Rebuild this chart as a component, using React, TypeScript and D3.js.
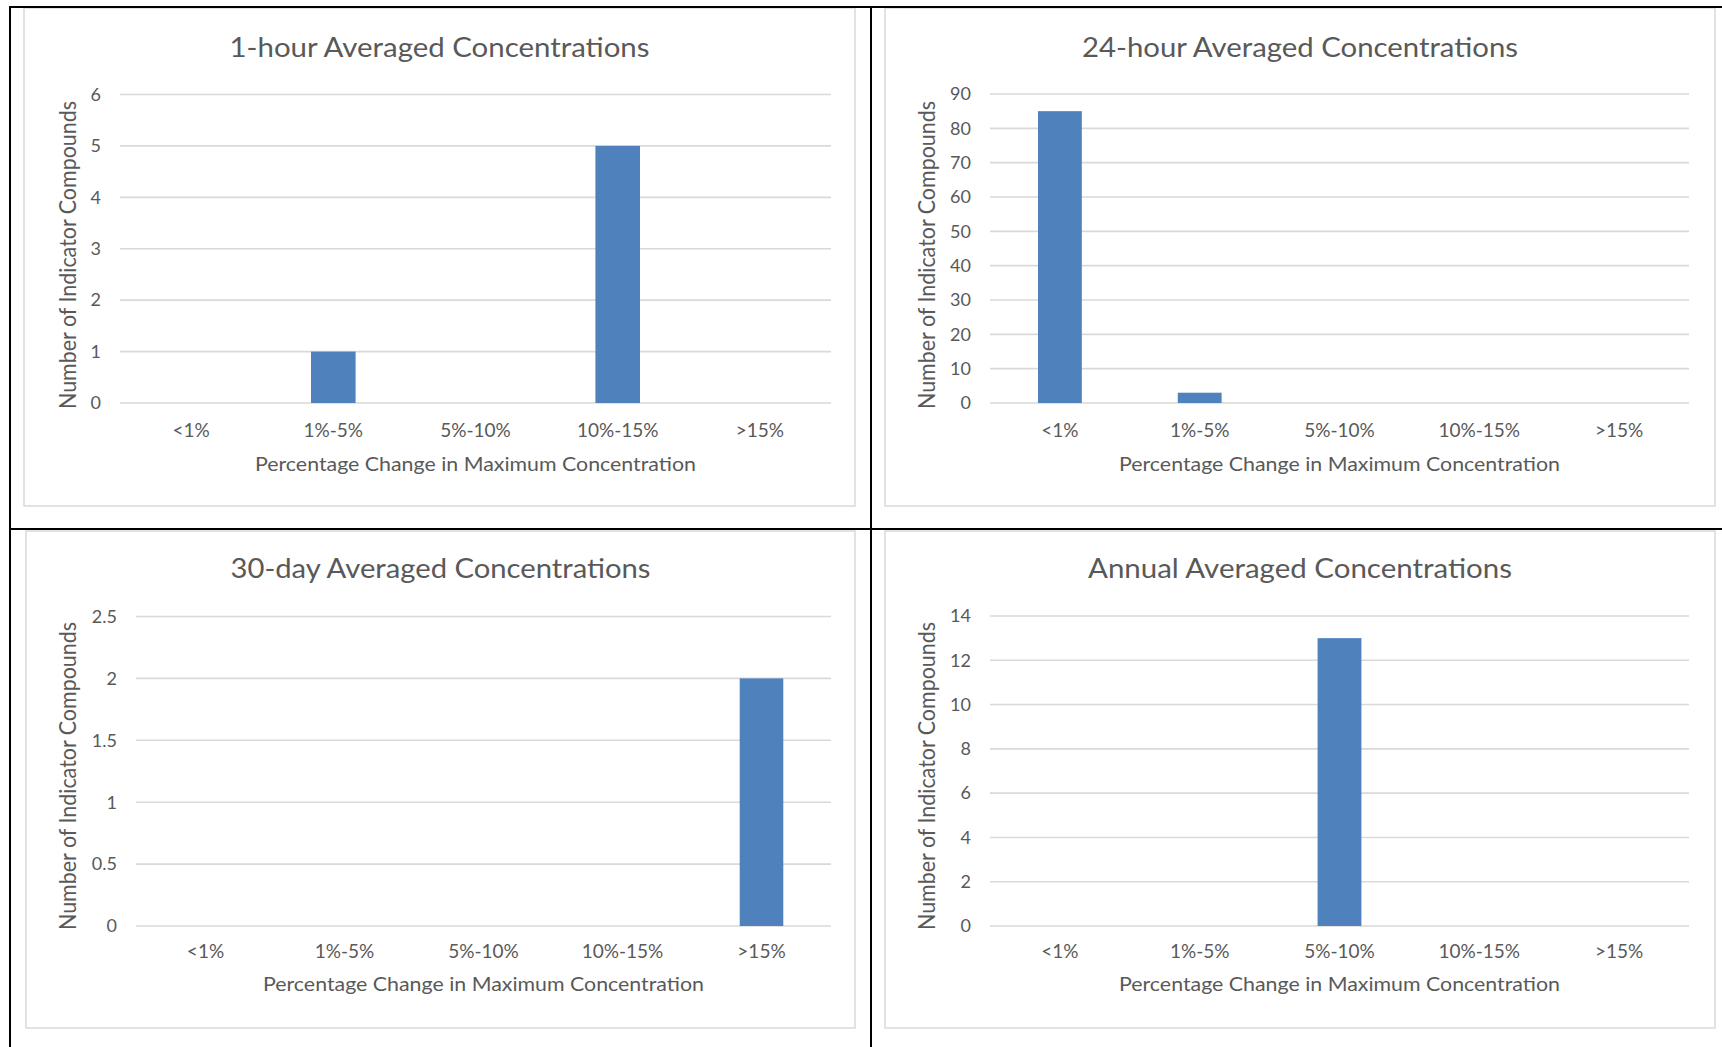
import React from "react";
import * as d3 from "d3";

const categories = ["<1%", "1%-5%", "5%-10%", "10%-15%", ">15%"];

const oneHourValues = [0, 1, 0, 5, 0];
const twentyFourHourValues = [85, 3, 0, 0, 0];
const thirtyDayValues = [0, 0, 0, 0, 2];
const annualValues = [0, 0, 13, 0, 0];

const oneHourTicks = [0, 1, 2, 3, 4, 5, 6];
const twentyFourHourTicks = [0, 10, 20, 30, 40, 50, 60, 70, 80, 90];
const thirtyDayTicks = [0, 0.5, 1, 1.5, 2, 2.5];
const annualTicks = [0, 2, 4, 6, 8, 10, 12, 14];

const titles = [
  "1-hour Averaged Concentrations",
  "24-hour Averaged Concentrations",
  "30-day Averaged Concentrations",
  "Annual Averaged Concentrations",
];

const xAxisTitle = "Percentage Change in Maximum Concentration";
const yAxisTitle = "Number of Indicator Compounds";

const panels = [
  {
    title: titles[0], values: oneHourValues, ticks: oneHourTicks,
    box: [24, 8, 855, 506], plotX: [120, 831], plotY: [94.5, 403],
    titleW: 420, titleY: 57, yTitleX: 76, yTitleY: 255, xTickDy: 34, xTitleDy: 68,
  },
  {
    title: titles[1], values: twentyFourHourValues, ticks: twentyFourHourTicks,
    box: [885, 8, 1715, 506], plotX: [990, 1689], plotY: [94, 403],
    titleW: 436, titleY: 57, yTitleX: 935, yTitleY: 255, xTickDy: 34, xTitleDy: 68,
  },
  {
    title: titles[2], values: thirtyDayValues, ticks: thirtyDayTicks,
    box: [26, 531, 855, 1028], plotX: [136, 831], plotY: [616.5, 926],
    titleW: 420, titleY: 578, yTitleX: 76, yTitleY: 776, xTickDy: 32, xTitleDy: 65,
  },
  {
    title: titles[3], values: annualValues, ticks: annualTicks,
    box: [885, 531, 1715, 1028], plotX: [990, 1689], plotY: [616, 926],
    titleW: 424, titleY: 578, yTitleX: 935, yTitleY: 776, xTickDy: 32, xTitleDy: 65,
  },
];

const FONT = "Lato, 'Open Sans', sans-serif";
const TEXT = "#595959";
const GRID = "#d9d9d9";
const BAR = "#4f81bd";

function Panel({ p }: { p: any }) {
  const [bx0, by0, bx1, by1] = p.box;
  const x = d3
    .scaleBand<string>()
    .domain(categories)
    .range(p.plotX)
    .paddingInner(0.6865)
    .paddingOuter(0.6865 / 2);
  const maxTick = p.ticks[p.ticks.length - 1];
  const y = d3.scaleLinear().domain([0, maxTick]).range([p.plotY[1], p.plotY[0]]);
  const fmt = d3.format("");
  const titleX = (bx0 + bx1) / 2;
  const plotCx = (p.plotX[0] + p.plotX[1]) / 2;
  const zeroY = y(0);
  return (
    <g>
      <rect
        x={bx0}
        y={by0}
        width={bx1 - bx0}
        height={by1 - by0}
        fill="#ffffff"
        stroke={GRID}
        strokeWidth={1.5}
      />
      <text
        x={titleX}
        y={p.titleY}
        textAnchor="middle"
        fontFamily={FONT}
        fontSize={26}
        fill={TEXT}
        textLength={p.titleW}
        lengthAdjust="spacingAndGlyphs"
      >
        {p.title}
      </text>
      {p.ticks.map((t: number) => (
        <g key={t}>
          <line
            x1={p.plotX[0]}
            x2={p.plotX[1]}
            y1={y(t)}
            y2={y(t)}
            stroke={GRID}
            strokeWidth={1.6}
          />
          <text
            x={p.plotX[0] - 19}
            y={y(t) + 6.3}
            textAnchor="end"
            fontFamily={FONT}
            fontSize={18}
            fill={TEXT}
          >
            {fmt(t)}
          </text>
        </g>
      ))}
      {categories.map((c, i) =>
        p.values[i] > 0 ? (
          <rect
            key={c}
            x={x(c)}
            y={y(p.values[i])}
            width={x.bandwidth()}
            height={zeroY - y(p.values[i])}
            fill={BAR}
          />
        ) : null
      )}
      {categories.map((c) => (
        <text
          key={c}
          x={(x(c) as number) + x.bandwidth() / 2}
          y={zeroY + p.xTickDy}
          textAnchor="middle"
          fontFamily={FONT}
          fontSize={19}
          fill={TEXT}
        >
          {c}
        </text>
      ))}
      <text
        x={plotCx}
        y={zeroY + p.xTitleDy}
        textAnchor="middle"
        fontFamily={FONT}
        fontSize={20}
        fill={TEXT}
        textLength={441}
        lengthAdjust="spacingAndGlyphs"
      >
        {xAxisTitle}
      </text>
      <text
        transform={`translate(${p.yTitleX},${p.yTitleY}) rotate(-90)`}
        textAnchor="middle"
        fontFamily={FONT}
        fontSize={23}
        fill={TEXT}
        textLength={308}
        lengthAdjust="spacingAndGlyphs"
      >
        {yAxisTitle}
      </text>
    </g>
  );
}

export default function App() {
  const W = 1722;
  const H = 1047;
  return (
    <svg
      width={W}
      height={H}
      style={{ position: "absolute", left: 0, top: 0, background: "#ffffff" }}
    >
      <rect x={0} y={0} width={W} height={H} fill="#ffffff" />
      {panels.map((p, i) => (
        <Panel key={i} p={p} />
      ))}
      <line x1={10} x2={10} y1={6} y2={H} stroke="#000" strokeWidth={2} />
      <line x1={871} x2={871} y1={6} y2={H} stroke="#000" strokeWidth={2} />
      <line x1={9} x2={W} y1={7} y2={7} stroke="#000" strokeWidth={2} />
      <line x1={9} x2={W} y1={529} y2={529} stroke="#000" strokeWidth={2} />
    </svg>
  );
}
